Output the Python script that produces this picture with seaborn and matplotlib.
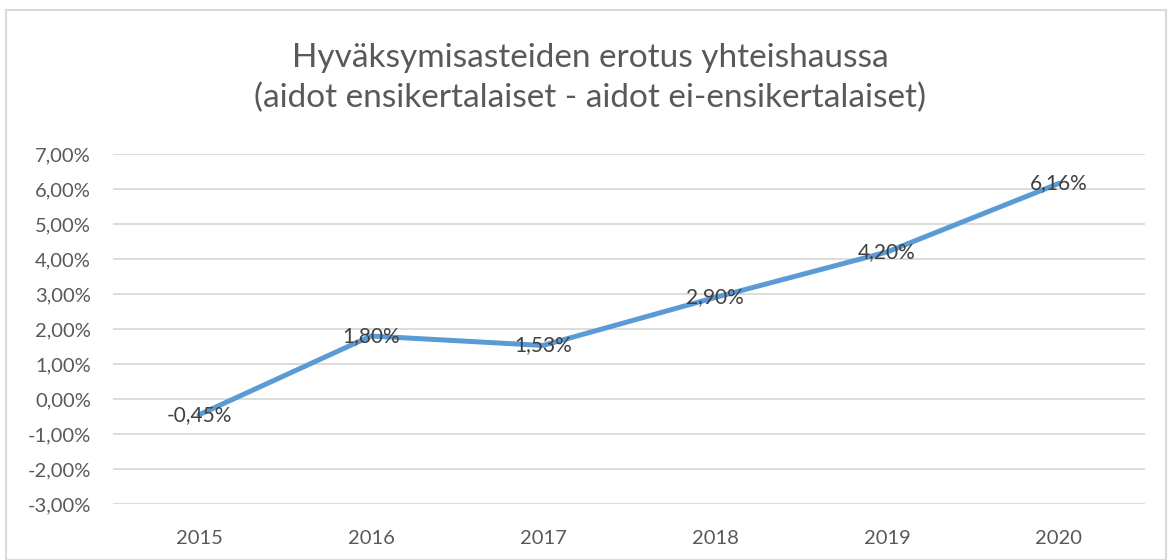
import matplotlib
matplotlib.use("Agg")
import matplotlib.pyplot as plt
import seaborn as sns
import pandas as pd
from matplotlib.patches import Rectangle

years = ["2015", "2016", "2017", "2018", "2019", "2020"]
values = [-0.45, 1.80, 1.53, 2.90, 4.20, 6.16]
labels = ["-0,45%", "1,80%", "1,53%", "2,90%", "4,20%", "6,16%"]
yticks = [-3, -2, -1, 0, 1, 2, 3, 4, 5, 6, 7]
title = "Hyväksymisasteiden erotus yhteishaussa\n(aidot ensikertalaiset - aidot ei-ensikertalaiset)"

sns.set_theme(style="white")
plt.rcParams['font.family'] = ['Lato', 'DejaVu Sans']

df = pd.DataFrame({"year": years, "value": values})
df["x"] = range(len(years))

fig = plt.figure(figsize=(11.72, 5.6), dpi=100)
ax = fig.add_axes([113/1172, 1-504/560, (1145-113)/1172, (504-154)/560])

fig.patches.append(Rectangle((6/1172, 0), 1-12/1172, 1-10/560, transform=fig.transFigure,
                             fill=False, edgecolor="#D9D9D9", linewidth=1.5))

for t in yticks:
    ax.axhline(t, color="#D9D9D9", linewidth=1.3, zorder=0)

sns.lineplot(data=df, x="x", y="value", ax=ax, color="#5B9BD5", linewidth=3.6,
             solid_capstyle="round", zorder=3)

for xi, v, lab in zip(df["x"], values, labels):
    ax.text(xi, v, lab, ha="center", va="center", fontsize=15, color="#404040", zorder=4)

ax.set_xlim(-0.5, 5.5)
ax.set_ylim(-3, 7)
ax.set_xticks(range(len(years)))
ax.set_xticklabels(years)
ax.set_yticks(yticks)
ax.set_yticklabels([f"{t},00%" for t in yticks])
ax.tick_params(axis="both", length=0, labelsize=14.5, labelcolor="#595959")
ax.tick_params(axis="x", pad=19)
ax.tick_params(axis="y", pad=16)
for lab in ax.get_yticklabels():
    lab.set_horizontalalignment("right")
ax.set_xlabel("")
ax.set_ylabel("")
for s in ax.spines.values():
    s.set_visible(False)

fig.text(590/1172, 1-78/560, title, ha="center", va="center", fontsize=24,
         color="#595959", linespacing=1.4)

fig.savefig("out.png", dpi=100)
